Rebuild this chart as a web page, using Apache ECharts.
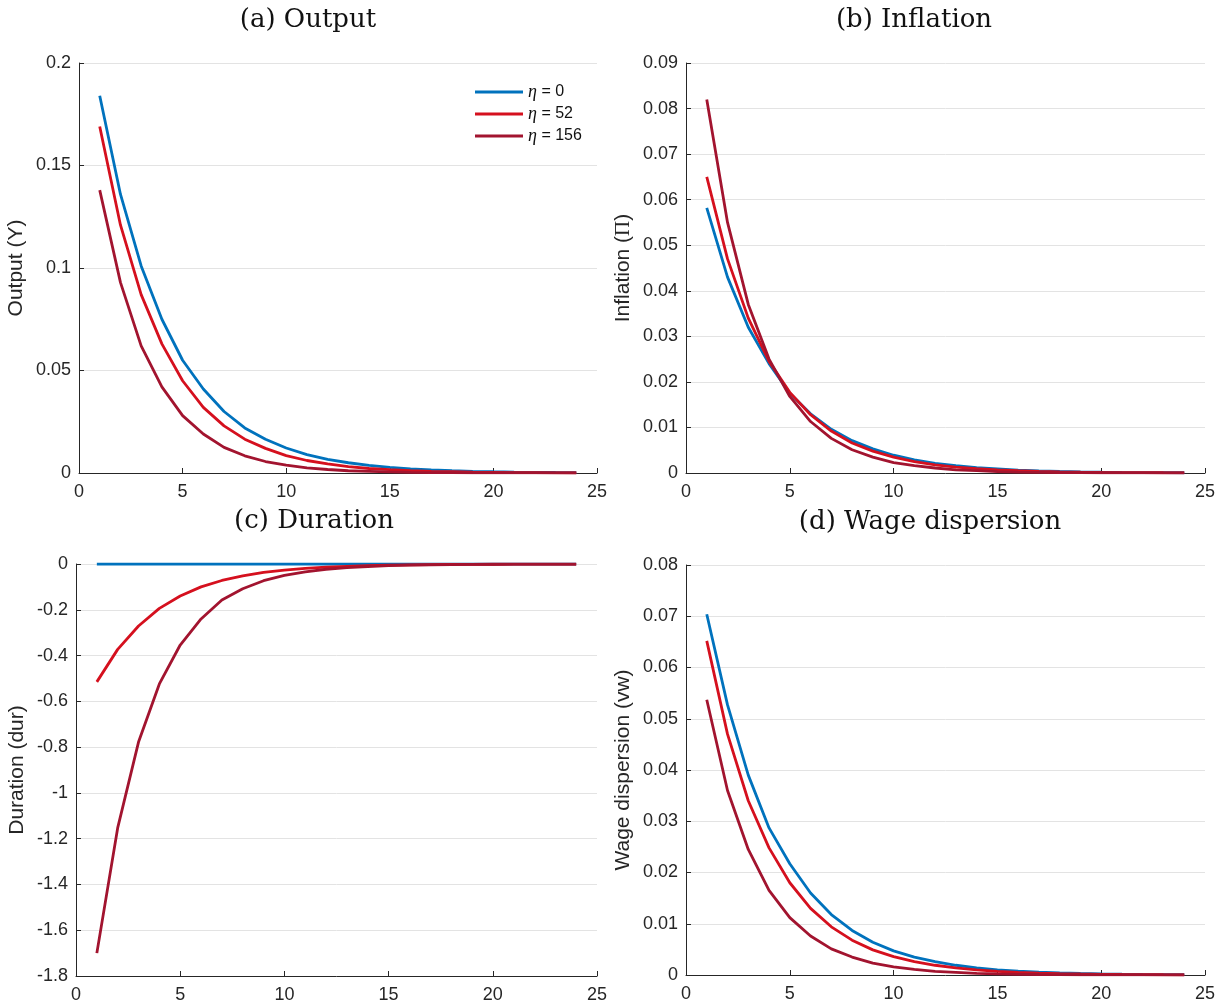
<!DOCTYPE html>
<html>
<head>
<meta charset="utf-8">
<script src="https://cdn.jsdelivr.net/npm/echarts@6/dist/echarts.min.js"></script>
<style>
  html, body { margin: 0; padding: 0; background: #fff; }
  #chart { width: 1228px; height: 1007px; }
</style>
</head>
<body>
<div id="chart"></div>
<script>
// Impulse responses over 24 periods for three values of eta
const periods = [1,2,3,4,5,6,7,8,9,10,11,12,13,14,15,16,17,18,19,20,21,22,23,24];
const seriesNames = ['η = 0', 'η = 52', 'η = 156'];
const legendValues = ['0', '52', '156'];

// (a) Output
const outputEta0   = [0.184,0.136,0.101,0.075,0.055,0.041,0.030,0.022,0.0165,0.0122,0.0090,0.0067,0.0050,0.0037,0.0027,0.0020,0.0015,0.0011,0.0008,0.0006,0.00045,0.00033,0.00025,0.0002];
const outputEta52  = [0.169,0.121,0.087,0.063,0.045,0.032,0.023,0.0165,0.012,0.0085,0.0061,0.0044,0.0031,0.0022,0.0016,0.0011,0.0008,0.0006,0.0004,0.0003,0.0002,0.00015,0.0001,0.0001];
const outputEta156 = [0.138,0.093,0.062,0.042,0.028,0.019,0.0125,0.0084,0.0056,0.0038,0.0025,0.0017,0.0011,0.0008,0.0005,0.0003,0.0002,0.00015,0.0001,0.00007,0.00005,0.00003,0.00002,0.00001];

// (b) Inflation
const inflEta0   = [0.0582,0.0430,0.0320,0.0240,0.0175,0.0130,0.0096,0.0071,0.0053,0.0039,0.0029,0.0021,0.0016,0.0012,0.0009,0.0006,0.00047,0.00035,0.00026,0.00019,0.00014,0.0001,0.00008,0.00006];
const inflEta52  = [0.0650,0.0470,0.0340,0.0245,0.0177,0.0128,0.0092,0.0066,0.0048,0.0035,0.0025,0.0018,0.0013,0.00095,0.0007,0.0005,0.00036,0.00026,0.00019,0.00014,0.0001,0.00007,0.00005,0.00004];
const inflEta156 = [0.0820,0.0550,0.0370,0.0250,0.0168,0.0113,0.0076,0.0051,0.0035,0.0023,0.0016,0.0011,0.0007,0.0005,0.0003,0.0002,0.00015,0.0001,0.00007,0.00005,0.00003,0.00002,0.00001,0.00001];

// (c) Duration
const durEta0   = [0,0,0,0,0,0,0,0,0,0,0,0,0,0,0,0,0,0,0,0,0,0,0,0];
const durEta52  = [-0.515,-0.373,-0.271,-0.194,-0.140,-0.100,-0.072,-0.052,-0.037,-0.027,-0.019,-0.014,-0.010,-0.007,-0.005,-0.0036,-0.0026,-0.0019,-0.0014,-0.0010,-0.0007,-0.0005,-0.0004,-0.0003];
const durEta156 = [-1.700,-1.153,-0.778,-0.524,-0.354,-0.240,-0.157,-0.108,-0.073,-0.050,-0.034,-0.023,-0.016,-0.011,-0.0073,-0.0050,-0.0034,-0.0023,-0.0016,-0.0011,-0.0007,-0.0005,-0.0003,-0.0002];

// (d) Wage dispersion
const wdEta0   = [0.0704,0.0527,0.0390,0.0287,0.0217,0.0160,0.0118,0.0087,0.0064,0.0047,0.0035,0.0026,0.0019,0.0014,0.0010,0.00075,0.00055,0.0004,0.0003,0.00022,0.00016,0.00012,0.00009,0.00007];
const wdEta52  = [0.0652,0.0470,0.0340,0.0248,0.0180,0.0130,0.0094,0.0068,0.0049,0.0036,0.0026,0.0019,0.0014,0.0010,0.0007,0.0005,0.00037,0.00027,0.0002,0.00014,0.0001,0.00007,0.00005,0.00004];
const wdEta156 = [0.0537,0.0360,0.0245,0.0165,0.0112,0.0076,0.0051,0.0035,0.0023,0.0016,0.0011,0.0007,0.0005,0.0003,0.0002,0.00014,0.0001,0.00007,0.00005,0.00003,0.00002,0.00001,0.00001,0.0];

const panelTitles = ['(a) Output', '(b) Inflation', '(c) Duration', '(d) Wage dispersion'];
const yNames = ['Output (Y)', 'Inflation ({s|Π})', 'Duration (dur)', 'Wage dispersion (vw)'];
const yRanges = [[0, 0.2, 0.05], [0, 0.09, 0.01], [-1.8, 0, 0.2], [0, 0.08, 0.01]];
const panelData = [
  [outputEta0, outputEta52, outputEta156],
  [inflEta0, inflEta52, inflEta156],
  [durEta0, durEta52, durEta156],
  [wdEta0, wdEta52, wdEta156]
];

const colors = ['#0072BD', '#D5101E', '#A2142F'];
const ink = '#262626';
const sans = 'Liberation Sans, Helvetica, Arial, sans-serif';
const serif = 'DejaVu Serif, Liberation Serif, serif';

const grids = [
  { left: 79,  top: 63,  width: 518, height: 410 },
  { left: 686, top: 63,  width: 519, height: 410 },
  { left: 76,  top: 564, width: 521, height: 412 },
  { left: 686, top: 565, width: 519, height: 410 }
];
const titlePos = [[308, 20], [914, 20], [314, 521], [930, 522]];
const nameGaps = [52, 52, 48, 52];

const fmt = v => String(+v.toFixed(4));

const xAxes = grids.map((g, i) => ({
  type: 'value', gridIndex: i, min: 0, max: 25, interval: 5,
  axisLine: { show: true, onZero: false, lineStyle: { color: ink, width: 1 } },
  axisTick: { show: true, inside: true, length: 5, lineStyle: { color: ink } },
  axisLabel: { color: ink, fontFamily: sans, fontSize: 18, margin: 10, formatter: fmt },
  splitLine: { show: false }
}));

const yAxes = grids.map((g, i) => ({
  type: 'value', gridIndex: i,
  min: yRanges[i][0], max: yRanges[i][1], interval: yRanges[i][2],
  name: yNames[i], nameLocation: 'middle', nameGap: nameGaps[i], nameRotate: 90,
  nameTextStyle: {
    color: ink, fontFamily: sans, fontSize: 21,
    rich: { s: { fontFamily: 'Liberation Serif, serif', fontSize: 21, color: ink } }
  },
  axisLine: { show: true, onZero: false, lineStyle: { color: ink, width: 1 } },
  axisTick: { show: true, inside: true, length: 5, lineStyle: { color: ink } },
  axisLabel: { color: ink, fontFamily: sans, fontSize: 18, margin: 8, formatter: fmt },
  splitLine: { show: true, lineStyle: { color: '#e3e3e3', width: 1 } }
}));

const series = [];
panelData.forEach((sets, p) => {
  sets.forEach((vals, k) => {
    series.push({
      type: 'line', name: seriesNames[k],
      xAxisIndex: p, yAxisIndex: p,
      data: periods.map((t, j) => [t, vals[j]]),
      symbol: 'none', showSymbol: false,
      lineStyle: { color: colors[k], width: 2.8 },
      itemStyle: { color: colors[k] },
      z: 2 + k
    });
  });
});

const titleText = panelTitles.map((t, i) => ({
  type: 'text',
  x: titlePos[i][0], y: titlePos[i][1],
  style: {
    text: t, fill: '#111', font: '26px ' + serif,
    textAlign: 'center', textVerticalAlign: 'middle'
  }
}));

const chart = echarts.init(document.getElementById('chart'), null, { renderer: 'canvas' });
chart.setOption({
  animation: false,
  backgroundColor: '#ffffff',
  grid: grids,
  xAxis: xAxes,
  yAxis: yAxes,
  legend: {
    left: 470, top: 78, orient: 'vertical',
    data: seriesNames, icon: 'rect', itemWidth: 48, itemHeight: 3, itemGap: 4,
    textStyle: {
      color: '#111', fontFamily: sans, fontSize: 16,
      rich: { i: { fontFamily: 'Liberation Serif, serif', fontStyle: 'italic', fontSize: 18, color: '#111' },
              t: { fontFamily: sans, fontSize: 16, color: '#111' } }
    },
    formatter: name => '{i|η}{t| = ' + legendValues[seriesNames.indexOf(name)] + '}',
    selectedMode: false
  },
  graphic: titleText,
  series: series
});
</script>
</body>
</html>
